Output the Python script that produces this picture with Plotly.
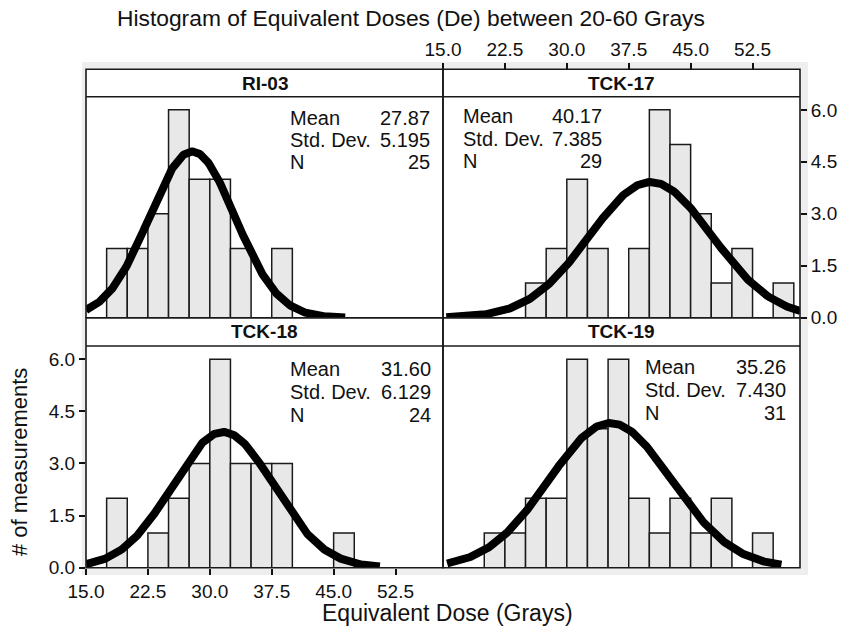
import numpy as np
import plotly.graph_objects as go

# ---------------- data ----------------
panels = ["RI-03", "TCK-17", "TCK-18", "TCK-19"]
bin_width = 2.5
bin_starts = [17.5, 20.0, 22.5, 25.0, 27.5, 30.0, 32.5, 35.0, 37.5, 40.0,
              42.5, 45.0, 47.5, 50.0, 52.5, 55.0]
counts_ri03 = [2, 2, 3, 6, 4, 4, 2, 0, 2, 0, 0, 0, 0, 0, 0, 0]
counts_tck17 = [0, 0, 0, 1, 2, 4, 2, 0, 2, 6, 5, 3, 1, 2, 0, 1]
counts_tck18 = [2, 0, 1, 2, 3, 6, 3, 3, 3, 0, 0, 1, 0, 0, 0, 0]
counts_tck19 = [0, 1, 1, 2, 2, 6, 4, 6, 2, 1, 2, 1, 2, 0, 1, 0]
all_counts = [counts_ri03, counts_tck17, counts_tck18, counts_tck19]

means = [27.87, 40.17, 31.60, 35.26]
std_devs = [5.195, 7.385, 6.129, 7.430]
ns = [25, 29, 24, 31]
mean_labels = ["27.87", "40.17", "31.60", "35.26"]
sd_labels = ["5.195", "7.385", "6.129", "7.430"]
n_labels = ["25", "29", "24", "31"]
curve_start = [15.0, 15.4, 15.0, 15.5]
curve_end = [46.4, 58.3, 50.6, 56.0]

x_ticks = [15.0, 22.5, 30.0, 37.5, 45.0, 52.5]
y_ticks = [0.0, 1.5, 3.0, 4.5, 6.0]

title_text = "Histogram of Equivalent Doses (De) between 20-60 Grays"
x_title = "Equivalent Dose (Grays)"
y_title = "# of measurements"

# ---------------- layout geometry (pixels) ----------------
W, H = 846, 631
FONT = "Liberation Sans, Arial, Helvetica, sans-serif"
xL0, xM, xR1 = 86, 443, 800
top_strip, top_plot, top_bottom = 69.3, 96.7, 317.7
bot_plot, bot_bottom = 346.0, 567.7

def px(x):
    return x / W

def py(y):
    return 1 - y / H

x_dom = [[px(xL0), px(xM)], [px(xM), px(xR1)], [px(xL0), px(xM)], [px(xM), px(xR1)]]
y_dom = [[py(top_bottom), py(top_plot)], [py(top_bottom), py(top_plot)],
         [py(bot_bottom), py(bot_plot)], [py(bot_bottom), py(bot_plot)]]
strip_px = [(top_strip, top_plot), (top_strip, top_plot),
            (top_bottom, bot_plot), (top_bottom, bot_plot)]
panel_px_x = [(xL0, xM), (xM, xR1), (xL0, xM), (xM, xR1)]
panel_px_y = [(top_strip, top_bottom), (top_strip, top_bottom),
              (top_bottom, bot_bottom), (top_bottom, bot_bottom)]
stats_px = [  # label-left x, value-right x, first line y, line step
    (288, 432, 118.0, 22.0),
    (461, 604, 116.0, 22.5),
    (288, 433, 369.3, 22.8),
    (643, 788, 367.3, 22.7),
]

X_RANGE = [15.0, 58.25]
Y_RANGE = [0.0, 6.38]

fig = go.Figure()

for i in range(4):
    xa = "x" if i == 0 else f"x{i+1}"
    ya = "y" if i == 0 else f"y{i+1}"
    centers = [s + bin_width / 2 for s in bin_starts]
    fig.add_trace(go.Bar(
        x=centers, y=all_counts[i], width=bin_width,
        marker=dict(color="#e8e8e8", line=dict(color="#1a1a1a", width=1.5)),
        xaxis=xa, yaxis=ya, showlegend=False, hoverinfo="skip"))
    xc = np.linspace(curve_start[i], curve_end[i], 300)
    yc = ns[i] * bin_width / (std_devs[i] * np.sqrt(2 * np.pi)) * \
        np.exp(-0.5 * ((xc - means[i]) / std_devs[i]) ** 2)
    fig.add_trace(go.Scatter(
        x=xc, y=yc, mode="lines", line=dict(color="black", width=8),
        xaxis=xa, yaxis=ya, showlegend=False, hoverinfo="skip"))

tickfont = dict(family=FONT, size=19, color="#111")
base_x = dict(range=X_RANGE, showgrid=False, zeroline=False, showline=False,
              tickvals=x_ticks, tickformat=".1f", tickfont=tickfont, automargin=False,
              ticklen=6, tickwidth=1.5, tickcolor="#111", fixedrange=True)
base_y = dict(range=Y_RANGE, showgrid=False, zeroline=False, showline=False,
              tickvals=y_ticks, tickformat=".1f", tickfont=tickfont, automargin=False,
              ticklen=6, tickwidth=1.5, tickcolor="#111", fixedrange=True)

layout = dict(
    width=W, height=H,
    margin=dict(l=0, r=0, t=0, b=0, pad=0, autoexpand=False),
    paper_bgcolor="white",
    plot_bgcolor="rgba(0,0,0,0)",
    barmode="overlay",
    font=dict(family=FONT, color="#111"),
)
for i in range(4):
    xk = "xaxis" if i == 0 else f"xaxis{i+1}"
    yk = "yaxis" if i == 0 else f"yaxis{i+1}"
    xa_anchor = "y" if i == 0 else f"y{i+1}"
    ya_anchor = "x" if i == 0 else f"x{i+1}"
    xd = dict(base_x, domain=x_dom[i], anchor=xa_anchor)
    yd = dict(base_y, domain=y_dom[i], anchor=ya_anchor)
    if i == 1:
        xd.update(side="top", anchor="free", position=py(top_strip), ticks="outside")
        yd.update(side="right", ticks="outside")
    elif i == 2:
        xd.update(side="bottom", ticks="outside")
        yd.update(side="left", ticks="outside")
    else:
        xd.update(ticks="", showticklabels=False)
        yd.update(ticks="", showticklabels=False)
    layout[xk] = xd
    layout[yk] = yd

shapes = []
# light gray frame
shapes.append(dict(type="rect", xref="paper", yref="paper",
                   x0=px(82), x1=px(808), y0=py(575), y1=py(62),
                   fillcolor="#eeeeee", line=dict(width=0), layer="below"))
# white panel backgrounds
for i in range(4):
    (xa0, xa1), (ya0, ya1) = panel_px_x[i], panel_px_y[i]
    shapes.append(dict(type="rect", xref="paper", yref="paper",
                       x0=px(xa0), x1=px(xa1), y0=py(ya1), y1=py(ya0),
                       fillcolor="white", line=dict(width=0), layer="below"))
# panel borders and strip separators
for i in range(4):
    (xa0, xa1), (ya0, ya1) = panel_px_x[i], panel_px_y[i]
    shapes.append(dict(type="rect", xref="paper", yref="paper",
                       x0=px(xa0), x1=px(xa1), y0=py(ya1), y1=py(ya0),
                       line=dict(color="#1a1a1a", width=1.6), layer="above"))
    s0, s1 = strip_px[i]
    shapes.append(dict(type="line", xref="paper", yref="paper",
                       x0=px(xa0), x1=px(xa1), y0=py(s1), y1=py(s1),
                       line=dict(color="#1a1a1a", width=1.6), layer="above"))
layout["shapes"] = shapes

annotations = []
stat_font = dict(family=FONT, size=20, color="#111")
for i in range(4):
    (xa0, xa1) = panel_px_x[i]
    s0, s1 = strip_px[i]
    annotations.append(dict(
        text=f"<b>{panels[i]}</b>", xref="paper", yref="paper",
        x=px((xa0 + xa1) / 2), y=py((s0 + s1) / 2), xanchor="center", yanchor="middle",
        showarrow=False, font=dict(family=FONT, size=19, color="#111")))
    lx, rx, y0, dy = stats_px[i]
    labels = ["Mean", "Std. Dev.", "N"]
    values = [mean_labels[i], sd_labels[i], n_labels[i]]
    for k in range(3):
        annotations.append(dict(text=labels[k], xref="paper", yref="paper",
                                x=px(lx), y=py(y0 + k * dy), xanchor="left", yanchor="middle",
                                showarrow=False, font=stat_font))
        annotations.append(dict(text=values[k], xref="paper", yref="paper",
                                x=px(rx), y=py(y0 + k * dy), xanchor="right", yanchor="middle",
                                showarrow=False, font=stat_font))
annotations.append(dict(text=title_text, xref="paper", yref="paper",
                        x=px(411), y=py(18), xanchor="center", yanchor="middle",
                        showarrow=False, font=dict(family=FONT, size=22.8, color="#111")))
annotations.append(dict(text=x_title, xref="paper", yref="paper",
                        x=px(447), y=py(613), xanchor="center", yanchor="middle",
                        showarrow=False, font=dict(family=FONT, size=23, color="#111")))
annotations.append(dict(text=y_title, xref="paper", yref="paper",
                        x=px(20), y=py(462), xanchor="center", yanchor="middle",
                        textangle=-90, showarrow=False,
                        font=dict(family=FONT, size=22, color="#111")))
layout["annotations"] = annotations

fig.update_layout(**layout)
fig.write_html("out.html")
